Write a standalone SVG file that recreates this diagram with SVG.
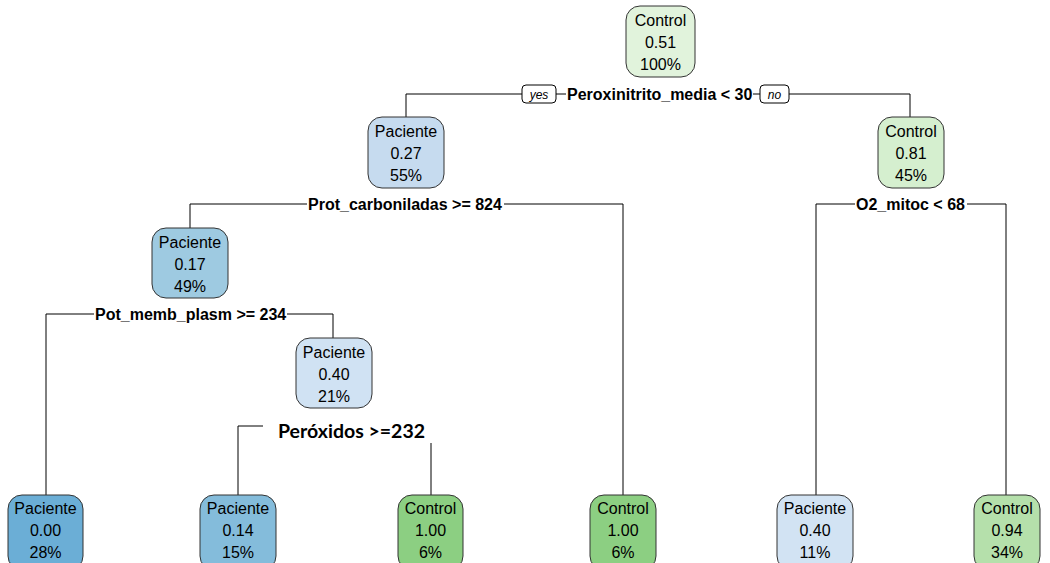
<svg xmlns="http://www.w3.org/2000/svg" width="1050" height="563" viewBox="0 0 1050 563">
<style>
.nb{stroke:#333;stroke-width:1}
.nt{font-family:"Liberation Sans",Arial,sans-serif;font-size:16px;text-anchor:middle;fill:#000}
.sl{font-family:"Liberation Sans",Arial,sans-serif;font-size:16px;font-weight:bold;fill:#000}
.yn{font-family:"Liberation Sans",Arial,sans-serif;font-size:12px;font-style:italic;text-anchor:middle;fill:#000}
.ln{stroke:#000;stroke-width:1;fill:none}
</style>
<rect width="1050" height="563" fill="#fff"/>
<g id="connectors">
<path class="ln" d="M406,117 V94 H522 M556,94 H566 M753,94 H760 M789,94 H910 V117"/>
<path class="ln" d="M190,228 V204 H307 M504,204 H623 V495"/>
<path class="ln" d="M816,495 V204 H855 M967,204 H1006 V495"/>
<path class="ln" d="M46,495 V314 H94 M287,314 H333 V338"/>
<path class="ln" d="M238,495 V426 H263 M431,443 V495"/>
<rect x="522" y="85" width="34" height="18" rx="4" fill="#fff" stroke="#000"/>
<text class="yn" x="539" y="99">yes</text>
<rect x="760" y="85" width="29" height="18" rx="4" fill="#fff" stroke="#000"/>
<text class="yn" x="774.5" y="99">no</text>
<text class="sl" x="567" y="100">Peroxinitrito_media &lt; 30</text>
<text class="sl" x="308" y="210">Prot_carboniladas &gt;= 824</text>
<text class="sl" x="856" y="210">O2_mitoc &lt; 68</text>
<text class="sl" x="95" y="320">Pot_memb_plasm &gt;= 234</text>
<text x="278" y="438" style="font-family:Lato,'Open Sans',sans-serif;font-size:19px;font-weight:bold" textLength="147" lengthAdjust="spacingAndGlyphs">Peróxidos &gt;=232</text>
</g>
<g id="n1">
<rect class="nb" x="626" y="6" width="69" height="71" rx="14" fill="#e1f3dc"/>
<text class="nt" x="660.5" y="26">Control</text><text class="nt" x="660.5" y="48">0.51</text><text class="nt" x="660.5" y="70">100%</text>
</g>
<g id="n2">
<rect class="nb" x="368" y="117" width="76" height="71" rx="14" fill="#c6dbef"/>
<text class="nt" x="406" y="137">Paciente</text><text class="nt" x="406" y="159">0.27</text><text class="nt" x="406" y="181">55%</text>
</g>
<g id="n3">
<rect class="nb" x="878" y="117" width="66" height="71" rx="14" fill="#d5efcf"/>
<text class="nt" x="911" y="137">Control</text><text class="nt" x="911" y="159">0.81</text><text class="nt" x="911" y="181">45%</text>
</g>
<g id="n4">
<rect class="nb" x="152" y="228" width="76" height="70" rx="14" fill="#9ecae1"/>
<text class="nt" x="190" y="248">Paciente</text><text class="nt" x="190" y="270">0.17</text><text class="nt" x="190" y="292">49%</text>
</g>
<g id="n5">
<rect class="nb" x="296" y="338" width="76" height="70" rx="14" fill="#d0e2f3"/>
<text class="nt" x="334" y="358">Paciente</text><text class="nt" x="334" y="380">0.40</text><text class="nt" x="334" y="402">21%</text>
</g>
<g id="leaf1">
<rect class="nb" x="8" y="495" width="75" height="75" rx="14" fill="#6baed6"/>
<text class="nt" x="45.5" y="514">Paciente</text><text class="nt" x="45.5" y="536">0.00</text><text class="nt" x="45.5" y="558">28%</text>
</g>
<g id="leaf2">
<rect class="nb" x="200" y="495" width="76" height="75" rx="14" fill="#84bcdb"/>
<text class="nt" x="238" y="514">Paciente</text><text class="nt" x="238" y="536">0.14</text><text class="nt" x="238" y="558">15%</text>
</g>
<g id="leaf3">
<rect class="nb" x="398" y="495" width="65" height="75" rx="14" fill="#8ccf82"/>
<text class="nt" x="430.5" y="514">Control</text><text class="nt" x="430.5" y="536">1.00</text><text class="nt" x="430.5" y="558">6%</text>
</g>
<g id="leaf4">
<rect class="nb" x="590" y="495" width="66" height="75" rx="14" fill="#8ccf82"/>
<text class="nt" x="623" y="514">Control</text><text class="nt" x="623" y="536">1.00</text><text class="nt" x="623" y="558">6%</text>
</g>
<g id="leaf5">
<rect class="nb" x="777" y="495" width="76" height="75" rx="14" fill="#d2e3f3"/>
<text class="nt" x="815" y="514">Paciente</text><text class="nt" x="815" y="536">0.40</text><text class="nt" x="815" y="558">11%</text>
</g>
<g id="leaf6">
<rect class="nb" x="974" y="495" width="66" height="75" rx="14" fill="#b5e0ab"/>
<text class="nt" x="1007" y="514">Control</text><text class="nt" x="1007" y="536">0.94</text><text class="nt" x="1007" y="558">34%</text>
</g>
</svg>
